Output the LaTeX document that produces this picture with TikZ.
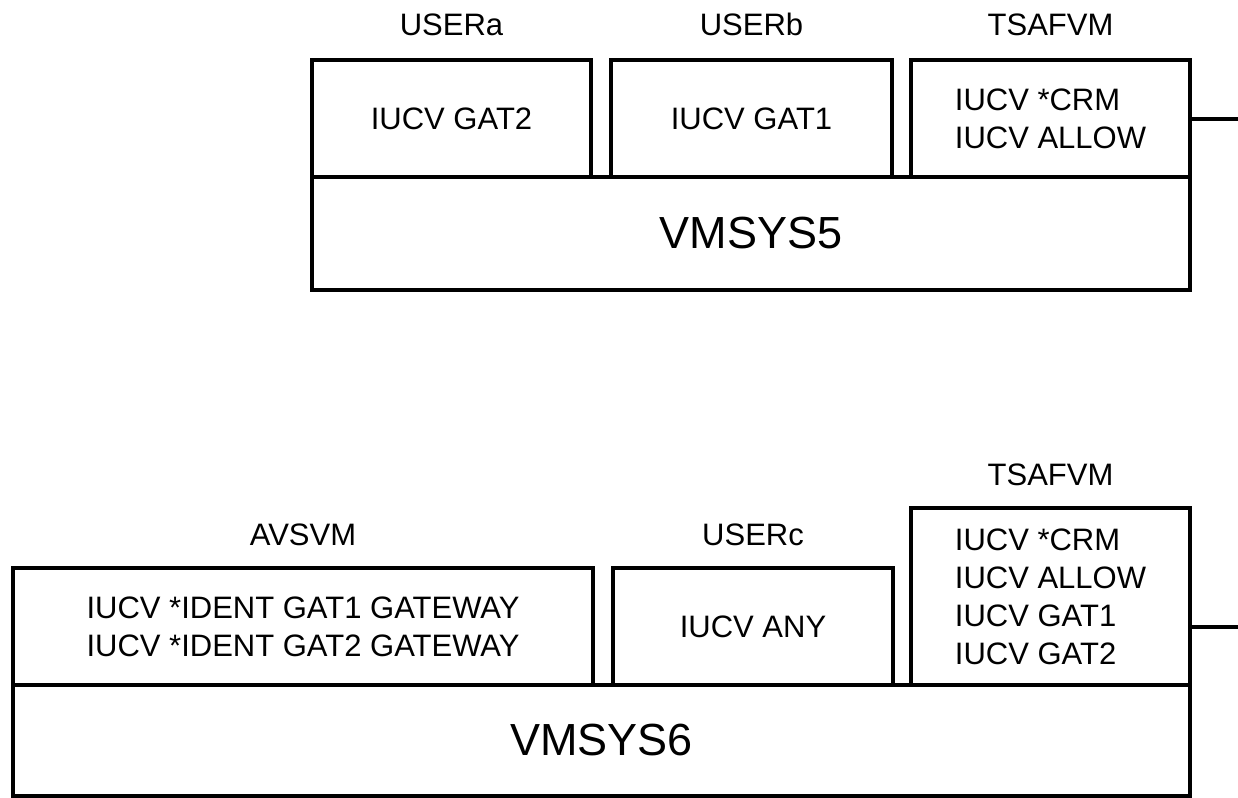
\documentclass[tikz,border=0pt]{standalone}
\usepackage{fontspec}
\setmainfont{Liberation Sans}
\usetikzlibrary{positioning}
\begin{document}
\begin{tikzpicture}[x=0.5pt, y=-0.5pt,
		box/.style={draw, line width=2pt, inner sep=0pt, font=\fontsize{15.5}{19}\selectfont},
		sysbox/.style={box, font=\fontsize{22.5}{27}\selectfont},
		tag/.style={inner sep=0pt, font=\fontsize{15.5}{19}\selectfont}]
			\useasboundingbox (0,0) rectangle (1238,798);
			% VMSYS5
			\node[box, minimum width=279pt/2, minimum height=117pt/2] (usera) at (451.5,118.5) {IUCV GAT2};
			\node[box, minimum width=281pt/2, minimum height=117pt/2] (userb) at (751.5,118.5) {IUCV GAT1};
			\node[box, minimum width=279pt/2, minimum height=117pt/2, align=left] (tsafa) at (1050.5,118.5) {IUCV *CRM\\IUCV ALLOW};
			\node[sysbox, minimum width=878pt/2, minimum height=113pt/2] (vmsysfive) at (751,233.5) {VMSYS5};
			\node[tag, above=11pt of usera] {USERa};
			\node[tag, above=11pt of userb] {USERb};
			\node[tag, above=11pt of tsafa] {TSAFVM};
			\coordinate (enda) at (1238,118.5);
			\draw[line width=2pt] (tsafa.east) -- (enda);
			% VMSYS6
			\node[box, minimum width=580pt/2, minimum height=117pt/2, align=left] (avsvm) at (303,626.5) {IUCV *IDENT GAT1 GATEWAY\\IUCV *IDENT GAT2 GATEWAY};
			\node[box, minimum width=280pt/2, minimum height=117pt/2] (userc) at (753,626.5) {IUCV ANY};
			\node[box, minimum width=279pt/2, minimum height=177pt/2, align=left] (tsafb) at (1050.5,596.5) {IUCV *CRM\\IUCV ALLOW\\IUCV GAT1\\IUCV GAT2};
			\node[sysbox, minimum width=1177pt/2, minimum height=111pt/2] (vmsyssix) at (601.5,740.5) {VMSYS6};
			\node[tag, above=10pt of avsvm] {AVSVM};
			\node[tag, above=10pt of userc] {USERc};
			\node[tag, above=10pt of tsafb] {TSAFVM};
			\coordinate (endb) at (1238,626.5);
			\draw[line width=2pt] (tsafb.east |- endb) -- (endb);
		\end{tikzpicture}
\end{document}
